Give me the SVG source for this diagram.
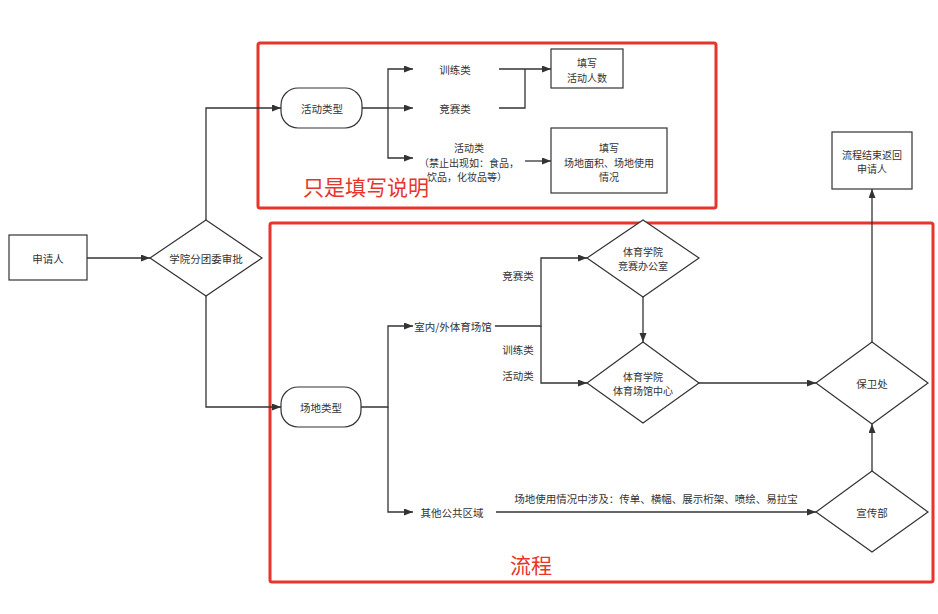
<svg xmlns="http://www.w3.org/2000/svg" width="938" height="614" viewBox="0 0 938 614">
<style>
text{font-family:"Noto Sans CJK SC","Noto Sans",sans-serif;font-size:10.5px;fill:#333;text-anchor:middle;dominant-baseline:central}
text.ml{font-size:10px}
.shape{fill:#fff;stroke:#333;stroke-width:1.2}
.conn{fill:none;stroke:#333;stroke-width:1.3}
.red{fill:none;stroke:#e8352b;stroke-width:3}
.redt{font-size:21px;fill:#e8352b;text-anchor:start}
</style>
<defs>
<marker id="ah" markerUnits="userSpaceOnUse" markerWidth="10" markerHeight="8" refX="9" refY="3.5" orient="auto">
<path d="M0,0 L9,3.5 L0,7 z" fill="#333"/>
</marker>
</defs>
<rect width="938" height="614" fill="#fff"/>

<g id="frame-note">
<rect class="red" x="258" y="43" width="458" height="165" rx="2"/>
<text class="redt" x="303" y="186">只是填写说明</text>
</g>
<g id="frame-flow">
<rect class="red" x="270" y="223" width="663" height="359" rx="2"/>
<text class="redt" x="510" y="564">流程</text>
</g>

<g id="connectors">
<path class="conn" d="M87,258 H150" marker-end="url(#ah)"/>
<path class="conn" d="M206,220 V108 H281" marker-end="url(#ah)"/>
<path class="conn" d="M206,296 V407 H281" marker-end="url(#ah)"/>
<path class="conn" d="M362,108 H388 V69 H413" marker-end="url(#ah)"/>
<path class="conn" d="M388,108 H413" marker-end="url(#ah)"/>
<path class="conn" d="M388,108 V158 H413" marker-end="url(#ah)"/>
<path class="conn" d="M499,69 H551" marker-end="url(#ah)"/>
<path class="conn" d="M499,108 H525 V69"/>
<path class="conn" d="M525,161 H551" marker-end="url(#ah)"/>
<path class="conn" d="M361,407 H388 V326 H413" marker-end="url(#ah)"/>
<path class="conn" d="M388,407 V512 H413" marker-end="url(#ah)"/>
<path class="conn" d="M495,326 H541 V258 H587" marker-end="url(#ah)"/>
<path class="conn" d="M541,326 V383 H587" marker-end="url(#ah)"/>
<path class="conn" d="M643,297 V342" marker-end="url(#ah)"/>
<path class="conn" d="M699,383 H816" marker-end="url(#ah)"/>
<path class="conn" d="M872,342 V189" marker-end="url(#ah)"/>
<path class="conn" d="M872,471 V424" marker-end="url(#ah)"/>
<path class="conn" d="M496,512 H816" marker-end="url(#ah)"/>
<text x="518" y="275">竞赛类</text>
<text x="518" y="349">训练类</text>
<text x="518" y="375">活动类</text>
<text x="656" y="498">场地使用情况中涉及：传单、横幅、展示桁架、喷绘、易拉宝</text>
</g>

<g id="applicant">
<rect class="shape" x="9" y="235" width="78" height="45"/>
<text x="48" y="258">申请人</text>
</g>
<g id="college-approval">
<polygon class="shape" points="206,220 262,258 206,296 150,258"/>
<text x="206" y="258">学院分团委审批</text>
</g>
<g id="activity-type">
<rect class="shape" x="281" y="88" width="81" height="40" rx="17"/>
<text x="322" y="108">活动类型</text>
</g>
<g id="label-training">
<text x="455" y="69">训练类</text>
</g>
<g id="label-competition">
<text x="455" y="108">竞赛类</text>
</g>
<g id="label-activity">
<text class="ml" x="469" y="147.5">活动类</text>
<text class="ml" x="469" y="162">（禁止出现如：食品，</text>
<text class="ml" x="467" y="176.5">饮品，化妆品等）</text>
</g>
<g id="fill-count">
<rect class="shape" x="551" y="49" width="72" height="39"/>
<text class="ml" x="587" y="62.5">填写</text>
<text class="ml" x="587" y="77">活动人数</text>
</g>
<g id="fill-area">
<rect class="shape" x="551" y="128" width="116" height="65"/>
<text class="ml" x="609" y="147.5">填写</text>
<text class="ml" x="609" y="162">场地面积、场地使用</text>
<text class="ml" x="609" y="176.5">情况</text>
</g>
<g id="venue-type">
<rect class="shape" x="281" y="387" width="80" height="40" rx="17"/>
<text x="321" y="407">场地类型</text>
</g>
<g id="label-indoor">
<text x="453" y="326">室内/外体育场馆</text>
</g>
<g id="label-public">
<text x="452" y="512">其他公共区域</text>
</g>
<g id="competition-office">
<polygon class="shape" points="643,220 699,258 643,297 587,258"/>
<text class="ml" x="643" y="251">体育学院</text>
<text class="ml" x="643" y="265.5">竞赛办公室</text>
</g>
<g id="stadium-center">
<polygon class="shape" points="643,342 699,383 643,423 587,383"/>
<text class="ml" x="643" y="376">体育学院</text>
<text class="ml" x="643" y="390.5">体育场馆中心</text>
</g>
<g id="security">
<polygon class="shape" points="872,342 928,383 872,424 816,383"/>
<text x="872" y="383">保卫处</text>
</g>
<g id="publicity">
<polygon class="shape" points="872,471 928,512 872,552 816,512"/>
<text x="872" y="512">宣传部</text>
</g>
<g id="end">
<rect class="shape" x="832" y="132" width="80" height="57"/>
<text class="ml" x="872" y="154">流程结束返回</text>
<text class="ml" x="872" y="168.5">申请人</text>
</g>
</svg>
